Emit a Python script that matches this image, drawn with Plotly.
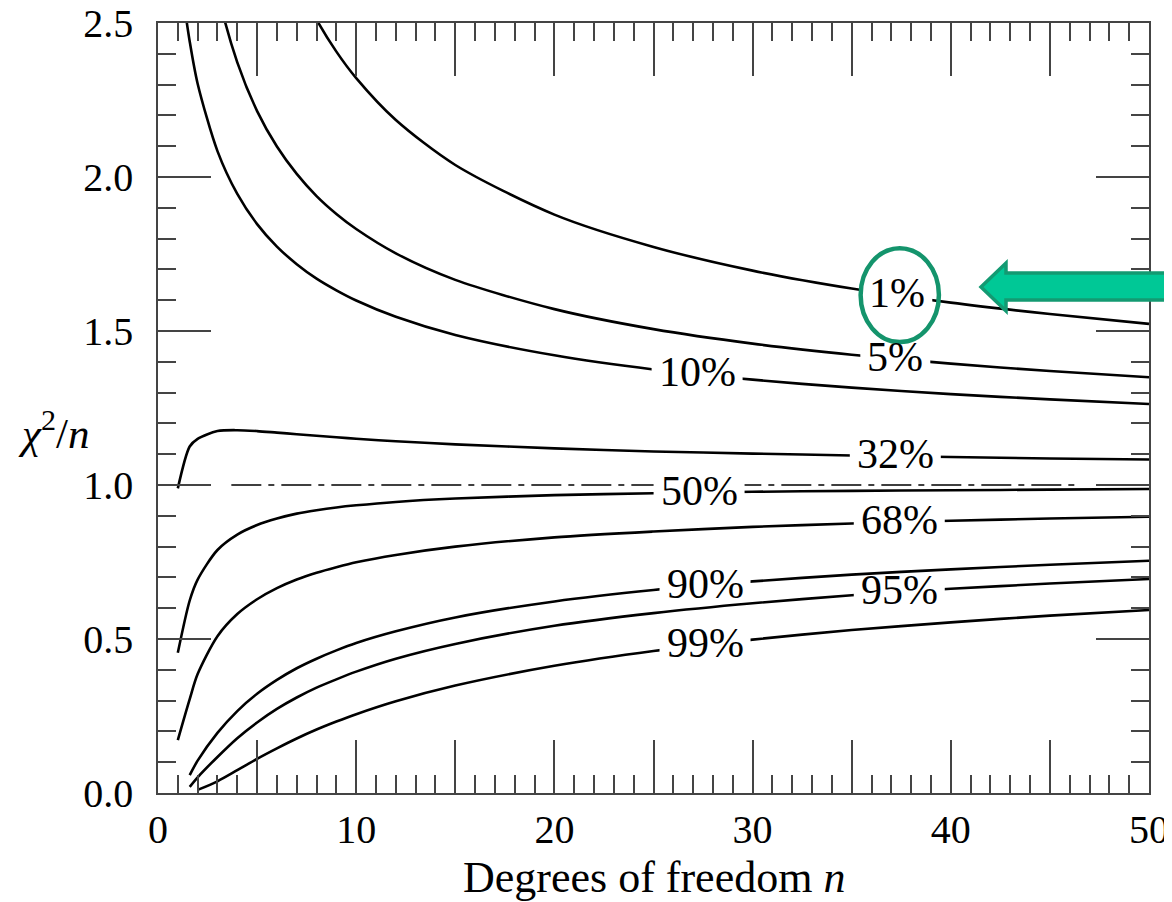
import numpy as np
import plotly.graph_objects as go

# ---------------- data ----------------
N = [1, 1.6, 2, 3, 4, 5, 6, 7, 8, 9, 10, 12, 15, 20, 25, 30, 35, 40, 45, 50]
P1 = [6.635, 5.30, 4.605, 3.782, 3.319, 3.017, 2.802, 2.639, 2.511, 2.407, 2.321,
      2.185, 2.039, 1.878, 1.773, 1.696, 1.638, 1.592, 1.555, 1.523]
P5 = [3.841, 3.20, 2.996, 2.605, 2.372, 2.214, 2.099, 2.010, 1.938, 1.880, 1.831,
      1.752, 1.666, 1.571, 1.506, 1.459, 1.423, 1.394, 1.370, 1.350]
P10 = [2.706, 2.44, 2.303, 2.084, 1.945, 1.847, 1.774, 1.717, 1.670, 1.632, 1.599,
       1.546, 1.487, 1.421, 1.375, 1.342, 1.316, 1.295, 1.278, 1.263]
P32 = [0.989, 1.125, 1.150, 1.175, 1.178, 1.175, 1.170, 1.165, 1.160, 1.155, 1.150,
       1.142, 1.132, 1.119, 1.109, 1.102, 1.096, 1.091, 1.086, 1.083]
P50 = [0.455, 0.625, 0.693, 0.789, 0.839, 0.870, 0.891, 0.907, 0.918, 0.927, 0.934,
       0.945, 0.956, 0.967, 0.973, 0.978, 0.981, 0.983, 0.985, 0.987]
P68 = [0.172, 0.305, 0.386, 0.509, 0.581, 0.629, 0.665, 0.693, 0.715, 0.733, 0.749,
       0.773, 0.800, 0.830, 0.849, 0.864, 0.875, 0.884, 0.891, 0.897]
P90 = [None, 0.058, 0.105, 0.195, 0.266, 0.322, 0.367, 0.405, 0.436, 0.463, 0.487,
       0.525, 0.570, 0.622, 0.659, 0.687, 0.709, 0.726, 0.741, 0.754]
P95 = [None, 0.020, 0.051, 0.117, 0.178, 0.229, 0.273, 0.310, 0.342, 0.369, 0.394,
       0.436, 0.484, 0.543, 0.584, 0.616, 0.642, 0.663, 0.680, 0.695]
P99 = [None, None, 0.010, 0.038, 0.074, 0.111, 0.145, 0.177, 0.206, 0.232, 0.256,
       0.298, 0.349, 0.413, 0.461, 0.498, 0.529, 0.554, 0.576, 0.594]

LABELS = ["1%", "5%", "10%", "32%", "50%", "68%", "90%", "95%", "99%"]
SERIES = [P1, P5, P10, P32, P50, P68, P90, P95, P99]
LABEL_N = [37.3, 37.2, 27.2, 37.2, 27.3, 37.4, 27.6, 37.4, 27.6]

REF_LEVEL = 1.0
REF_N = [3.7, 46.4]

X_TICKS = [0, 5, 10, 15, 20, 25, 30, 35, 40, 45, 50]
X_TICKTEXT = ["0", "", "10", "", "20", "", "30", "", "40", "", "50"]
Y_TICKS = [0.0, 0.5, 1.0, 1.5, 2.0, 2.5]
Y_TICKTEXT = ["0.0", "0.5", "1.0", "1.5", "2.0", "2.5"]

# ---------------- layout constants ----------------
OFF = 8                      # page body margin in the browser
W, H = 1172 - OFF, 902 - OFF
ML, MR, MT = 158 - OFF, 23, 23 - OFF
PW, PH = W - ML - MR, 770
MB = H - MT - PH
FONT = "Liberation Serif"
LAB_FS = 42
XPX = PW / 50.0
YPX = PH / 2.5


def px2paper(px, py):
    """viewport pixel -> paper coordinates"""
    fx, fy = px - OFF, py - OFF
    return (fx - ML) / PW, (MT + PH - fy) / PH


fig = go.Figure()

# reference dash-dot line
fig.add_trace(go.Scatter(x=REF_N, y=[REF_LEVEL, REF_LEVEL], mode="lines",
                         line=dict(color="black", width=1.6, dash="30px,7px,6px,7px"),
                         hoverinfo="skip", showlegend=False))

for lab, ser in zip(LABELS, SERIES):
    fig.add_trace(go.Scatter(x=N, y=ser, mode="lines", name=lab,
                             line=dict(color="black", width=2.6, shape="spline", smoothing=0.8),
                             connectgaps=False, showlegend=False))

shapes = []
annotations = []
for lab, ser, ln in zip(LABELS, SERIES, LABEL_N):
    xs = [n for n, v in zip(N, ser) if v is not None]
    ys = [v for v in ser if v is not None]
    yv = float(np.interp(ln, xs, ys))
    ndig = len(lab) - 1
    wpx = LAB_FS * (0.5 * ndig + 0.833) + 14
    hw = wpx / 2 / XPX
    hh = 12 / YPX
    shapes.append(dict(type="rect", xref="x", yref="y", x0=ln - hw, x1=ln + hw,
                       y0=yv - hh, y1=yv + hh, fillcolor="white",
                       line=dict(width=0), layer="above"))
    annotations.append(dict(x=ln, y=yv, xref="x", yref="y", text=lab, showarrow=False,
                            xanchor="center", yanchor="middle", yshift=2,
                            font=dict(family=FONT, size=LAB_FS, color="black")))

# green ellipse around 1%
shapes.append(dict(type="circle", xref="x", yref="y", x0=35.45, x1=39.4, y0=1.464, y1=1.769,
                   line=dict(color="#14946c", width=4.5), fillcolor="rgba(0,0,0,0)", layer="above"))

# green arrow (decoration, viewport pixel geometry)
arrow_px = [(981, 287), (1006, 263), (1006, 273), (1180, 273), (1180, 300),
            (1006, 300), (1006, 311)]
pts = [px2paper(x, y) for x, y in arrow_px]
path = "M " + " L ".join(f"{a:.5f},{b:.5f}" for a, b in pts) + " Z"
shapes.append(dict(type="path", xref="paper", yref="paper", path=path,
                   fillcolor="#00c896", line=dict(color="#139a72", width=3.5), layer="above"))

# axis titles
annotations.append(dict(x=0.5, y=px2paper(0, 877)[1], xref="paper", yref="paper",
                        text="Degrees of freedom <i>n</i>", showarrow=False,
                        xanchor="center", yanchor="middle",
                        font=dict(family=FONT, size=44, color="black")))
annotations.append(dict(x=px2paper(16, 0)[0], y=px2paper(0, 430)[1], xref="paper", yref="paper",
                        text="<i>χ</i><sup>2</sup>/<i>n</i>", showarrow=False,
                        xanchor="left", yanchor="middle",
                        font=dict(family=FONT, size=43, color="black")))

axis_common = dict(showgrid=False, zeroline=False, showline=True, linecolor="#444",
                   linewidth=1.5, mirror="ticks", ticks="inside", ticklen=53,
                   tickwidth=1.5, tickcolor="#444", automargin=False,
                   ticklabeloverflow="allow",
                   tickfont=dict(family=FONT, size=40, color="black"))

fig.update_layout(
    width=W, height=H, margin=dict(l=ML, r=MR, t=MT, b=MB, autoexpand=False),
    plot_bgcolor="white", paper_bgcolor="white",
    xaxis=dict(range=[0, 50], tickmode="array", tickvals=X_TICKS, ticktext=X_TICKTEXT,
               minor=dict(tickmode="linear", tick0=0, dtick=1, ticks="inside", ticklen=18,
                          tickwidth=1.5, tickcolor="#444"),
               **axis_common),
    yaxis=dict(range=[0, 2.5], tickmode="array", tickvals=Y_TICKS, ticktext=Y_TICKTEXT,
               ticklabelstandoff=15,
               minor=dict(tickmode="linear", tick0=0, dtick=0.1, ticks="inside", ticklen=18,
                          tickwidth=1.5, tickcolor="#444"),
               **axis_common),
    shapes=shapes, annotations=annotations,
)

fig.write_html("out.html")
